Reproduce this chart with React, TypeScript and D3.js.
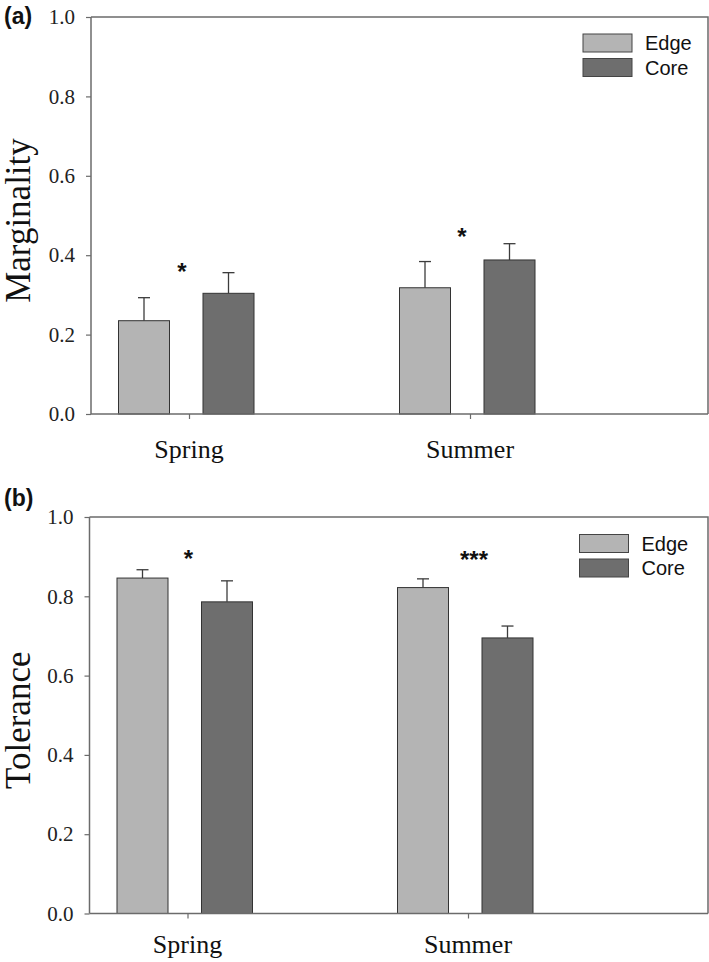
import React, { useEffect, useRef } from "react";
import * as d3 from "d3";

const categories = ["Spring", "Summer"];
const series = ["Edge", "Core"];
const colors = ["#b4b4b4", "#6e6e6e"];
const yTicks = [0, 0.2, 0.4, 0.6, 0.8, 1.0];

const marginalityMean = [
  [0.235, 0.304],
  [0.318, 0.388],
];
const marginalityErr = [
  [0.058, 0.052],
  [0.066, 0.041],
];
const marginalitySig = ["*", "*"];
const marginalitySigY = [0.37, 0.458];

const toleranceMean = [
  [0.846, 0.786],
  [0.822, 0.695],
];
const toleranceErr = [
  [0.021, 0.053],
  [0.022, 0.03],
];
const toleranceSig = ["*", "***"];
const toleranceSigY = [0.907, 0.904];

type PanelCfg = {
  tag: string;
  ylabel: string;
  mean: number[][];
  err: number[][];
  sig: string[];
  sigY: number[];
  left: number;
  top: number;
  bottom: number;
  right: number;
  cat0: number;
  cat1: number;
  sigDx: number[];
  legendX: number;
  legendY: number;
  tagY: number;
  labelY: number;
};

const W = 709;
const H = 962;
const SERIF = "'Liberation Serif', 'Times New Roman', serif";
const SANS = "'Liberation Sans', Arial, sans-serif";

export default function App() {
  const ref = useRef<SVGSVGElement>(null);

  useEffect(() => {
    const svg = d3.select(ref.current);
    svg.selectAll("*").remove();

    const panels: PanelCfg[] = [
      {
        tag: "(a)", ylabel: "Marginality", mean: marginalityMean, err: marginalityErr,
        sig: marginalitySig, sigY: marginalitySigY,
        left: 91, top: 17, bottom: 414, right: 708, cat0: 189, cat1: 470,
        sigDx: [-7, -8], legendX: 583, legendY: 34, tagY: 24, labelY: 458,
      },
      {
        tag: "(b)", ylabel: "Tolerance", mean: toleranceMean, err: toleranceErr,
        sig: toleranceSig, sigY: toleranceSigY,
        left: 89.5, top: 517, bottom: 913.5, right: 708, cat0: 187.5, cat1: 468,
        sigDx: [1, 6], legendX: 579.5, legendY: 534.5, tagY: 506, labelY: 953,
      },
    ];

    panels.forEach((p) => {
      const g = svg.append("g");
      const y = d3.scaleLinear().domain([0, 1]).range([p.bottom, p.top]);
      const x0 = d3.scalePoint<string>().domain(categories).range([p.cat0, p.cat1]);
      const x1 = d3.scaleBand<string>().domain(series).range([-70.5, 65]).paddingInner(0.3964);

      // frame: top and right lines
      g.append("path")
        .attr("d", `M${p.left},${p.top}H${p.right}V${p.bottom}`)
        .attr("fill", "none")
        .attr("stroke", "#6b6b6b")
        .attr("stroke-width", 1.5);

      // bars
      categories.forEach((c, ci) => {
        series.forEach((s, si) => {
          const bx = (x0(c) as number) + (x1(s) as number);
          const bw = x1.bandwidth();
          const v = p.mean[ci][si];
          const e = p.err[ci][si];
          const cx = bx + bw / 2;
          g.append("line")
            .attr("x1", cx).attr("x2", cx)
            .attr("y1", y(v)).attr("y2", y(v + e))
            .attr("stroke", "#3c3c3c").attr("stroke-width", 1.3);
          g.append("line")
            .attr("x1", cx - 6).attr("x2", cx + 6)
            .attr("y1", y(v + e)).attr("y2", y(v + e))
            .attr("stroke", "#3c3c3c").attr("stroke-width", 1.3);
          g.append("rect")
            .attr("x", bx).attr("y", y(v))
            .attr("width", bw).attr("height", y(0) - y(v))
            .attr("fill", colors[si])
            .attr("stroke", "#333")
            .attr("stroke-width", 1);
        });
        g.append("text")
          .attr("x", (x0(c) as number) + p.sigDx[ci])
          .attr("y", y(p.sigY[ci]) + 13)
          .attr("text-anchor", "middle")
          .style("font-family", SANS)
          .style("font-weight", "bold")
          .style("font-size", "24px")
          .attr("fill", "#111")
          .text(p.sig[ci]);
      });

      // y axis
      const ya = d3.axisLeft(y).tickValues(yTicks).tickFormat(d3.format(".1f")).tickSize(5).tickPadding(11);
      const yg = g.append("g").attr("transform", `translate(${p.left},0)`).call(ya);
      yg.attr("font-family", null).attr("font-size", null);
      yg.select(".domain").attr("stroke", "#6b6b6b").attr("stroke-width", 1.5).attr("d", `M0,${p.top}V${p.bottom}`);
      yg.selectAll(".tick line").attr("stroke", "#6b6b6b").attr("stroke-width", 1.2);
      yg.selectAll(".tick text")
        .style("font-family", SERIF)
        .style("font-size", "21px")
        .attr("fill", "#222");

      // x axis
      const xa = d3.axisBottom(x0).tickSize(5).tickFormat(() => "");
      const xg = g.append("g").attr("transform", `translate(0,${p.bottom})`).call(xa);
      xg.select(".domain").attr("stroke", "#6b6b6b").attr("stroke-width", 1.5).attr("d", `M${p.left},0H${p.right}`);
      xg.selectAll(".tick line").attr("stroke", "#6b6b6b").attr("stroke-width", 1.2);

      categories.forEach((c) => {
        g.append("text")
          .attr("x", x0(c) as number)
          .attr("y", p.labelY)
          .attr("text-anchor", "middle")
          .style("font-family", SERIF)
          .style("font-size", "26px")
          .attr("fill", "#111")
          .text(c);
      });

      // y label
      g.append("text")
        .attr("transform", `translate(30,${(p.top + p.bottom) / 2 + 5}) rotate(-90)`)
        .attr("text-anchor", "middle")
        .style("font-family", SERIF)
        .style("font-size", "35px")
        .attr("fill", "#111")
        .text(p.ylabel);

      // panel tag
      g.append("text")
        .attr("x", 4)
        .attr("y", p.tagY)
        .style("font-family", SANS)
        .style("font-weight", "bold")
        .style("font-size", "23px")
        .attr("fill", "#111")
        .text(p.tag);

      // legend
      series.forEach((s, si) => {
        const ly = p.legendY + si * 24.5;
        g.append("rect")
          .attr("x", p.legendX).attr("y", ly)
          .attr("width", 49).attr("height", 18)
          .attr("fill", colors[si])
          .attr("stroke", "#444").attr("stroke-width", 1);
        g.append("text")
          .attr("x", p.legendX + 62)
          .attr("y", ly + 16)
          .style("font-family", SANS)
          .style("font-size", "20px")
          .attr("fill", "#111")
          .text(s);
      });
    });
  }, []);

  return (
    <svg
      ref={ref}
      width={W}
      height={H}
      style={{ position: "absolute", left: 0, top: 0, background: "#fff" }}
    />
  );
}
